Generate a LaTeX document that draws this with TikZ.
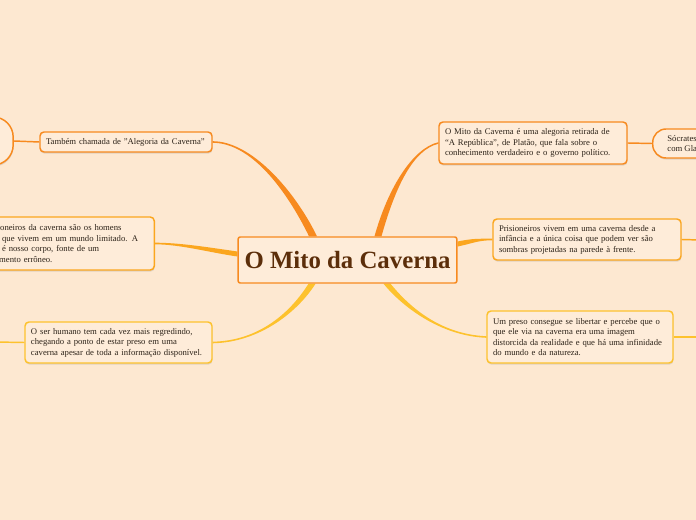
\documentclass[tikz,border=0pt]{standalone}
\usepackage{fontspec}
\setmainfont{Liberation Serif}
\usetikzlibrary{calc, shadows, backgrounds}

\definecolor{bgpeach}{RGB}{253,232,209}
\definecolor{boxfill}{RGB}{254,236,217}
\definecolor{mapOrange}{RGB}{247,138,31}
\definecolor{mapAmber}{RGB}{251,166,30}
\definecolor{mapYellow}{RGB}{253,194,45}
\definecolor{titleBrown}{RGB}{92,46,10}
\definecolor{inkDark}{RGB}{45,35,25}

\begin{document}
\begin{tikzpicture}[x=0.75pt, y=-0.75pt,
    root/.style={draw=mapOrange, line width=1.1pt, fill=boxfill, rounded corners=1.5pt,
        minimum width=164pt, minimum height=34.5pt, inner sep=0pt,
        font=\fontsize{18.6}{22}\selectfont\bfseries, text=titleBrown},
    topic/.style={draw=#1, line width=1.1pt, fill=boxfill, rounded corners=3pt,
        align=left, inner xsep=4.5pt, inner ysep=2pt,
        font=\fontsize{6.5}{7.9}\selectfont, text=inkDark,
        drop shadow={shadow xshift=0.3pt, shadow yshift=-1.2pt, opacity=0.22}},
    pill/.style={topic=#1, rounded corners=10pt},
    link/.style={draw=#1, line width=1.1pt},
]

\useasboundingbox (0,0) rectangle (696,520);
\clip (0,0) rectangle (696,520);

% ===================== CENTRAL TOPIC =====================
\node[root] (root) at (347.5,260) {O Mito da Caverna};

% ===================== LEFT SIDE =====================
\node[topic=mapOrange, text width=120pt, minimum height=15pt] (tl) at (126,142)
    {Também chamada de \char34 Alegoria da Caverna\char34};
\node[pill=mapOrange, minimum width=40pt, minimum height=36pt,
      rounded corners=15pt] (farl) at (-13.5,141) {};

\node[topic=mapAmber, text width=132pt, minimum height=39.75pt, anchor=east] (lm)
    at (155,243.5)
    {Os prisioneiros da caverna são os homens\\
     comuns que vivem em um mundo limitado. A\\
     caverna é nosso corpo, fonte de um\\
     conhecimento errôneo.};

\node[topic=mapYellow, text width=131.25pt, minimum height=30.75pt] (bl) at (118.5,342.5)
    {O ser humano tem cada vez mais regredindo,\\
     chegando a ponto de estar preso em uma\\
     caverna apesar de toda a informação disponível.};

% ===================== RIGHT SIDE =====================
\node[topic=mapOrange, text width=132pt, minimum height=31.5pt] (tr) at (533,143)
    {O Mito da Caverna é uma alegoria retirada de\\
     “A República”, de Platão, que fala sobre o\\
     conhecimento verdadeiro e o governo político.};
\node[pill=mapOrange, minimum height=21.75pt, inner xsep=11pt,
      anchor=west] (soc) at (652,143.5)
    {Sócrates conversa\\com Glauco};

\node[topic=mapAmber, text width=132pt, minimum height=30.75pt] (rm) at (587,239.5)
    {Prisioneiros vivem em uma caverna desde a\\
     infância e a única coisa que podem ver são\\
     sombras projetadas na parede à frente.};

\node[topic=mapYellow, text width=130.5pt, minimum height=39pt] (br) at (580,337)
    {Um preso consegue se libertar e percebe que o\\
     que ele via na caverna era uma imagem\\
     distorcida da realidade e que há uma infinidade\\
     do mundo e da natureza.};

% loose ends leaving the page
\coordinate (rmout) at (700,240);
\coordinate (brout) at (700,337);
\coordinate (blout) at (-5,342);

% ===================== BRANCHES =====================
% tapered curves from the central topic, thin lines to sub-topics
\begin{scope}[on background layer]
\fill[bgpeach] (0,0) rectangle (696,520);

\fill[mapOrange] ($(root.north)+(-38.5,0)$) .. controls +(-23,-47) and +(38,0) .. ($(tl.east)+(0,0.8)$)
    -- ($(tl.east)+(0,-0.8)$) .. controls +(38,0) and +(-23,-47) .. ($(root.north)+(-30.5,0)$) -- cycle;
\fill[mapOrange] ($(root.north)+(27,0)$) .. controls +(14,-50) and +(-25,6) .. ($(tr.west)+(0,-0.8)$)
    -- ($(tr.west)+(0,0.8)$) .. controls +(-25,6) and +(14,-50) .. ($(root.north)+(34,0)$) -- cycle;

\fill[mapAmber] ($(root.west)+(0,-8.5)$) .. controls +(-28,-4) and +(25,0) .. ($(lm.east)+(0,-0.8)$)
    -- ($(lm.east)+(0,0.8)$) .. controls +(25,0) and +(-28,-4) .. ($(root.west)+(0,-3.5)$) -- cycle;
\fill[mapAmber] ($(root.east)+(0,-18.5)$) .. controls +(15,-3) and +(-15,0) .. ($(rm.west)+(0,-0.8)$)
    -- ($(rm.west)+(0,0.8)$) .. controls +(-15,0) and +(15,-3) .. ($(root.east)+(0,-13.5)$) -- cycle;

\fill[mapYellow] ($(root.south)+(-32,0)$) .. controls +(-17,27) and +(48,-1) .. ($(bl.east)+(0,0.8)$)
    -- ($(bl.east)+(0,-0.8)$) .. controls +(48,-1) and +(-17,27) .. ($(root.south)+(-39,0)$) -- cycle;
\fill[mapYellow] ($(root.south)+(43,0)$) .. controls +(18,22) and +(-47,-2) .. ($(br.west)+(0,-0.8)$)
    -- ($(br.west)+(0,0.8)$) .. controls +(-47,-2) and +(18,22) .. ($(root.south)+(36,0)$) -- cycle;

\draw[link=mapOrange] (tl.west) -- (farl.east);
\draw[link=mapOrange] (tr.east) -- (soc.west);
\draw[link=mapAmber] (rm.east) -- (rmout);
\draw[link=mapYellow] (br.east) -- (brout);
\draw[link=mapYellow] (bl.west) -- (blout);
\end{scope}

\end{tikzpicture}
\end{document}
